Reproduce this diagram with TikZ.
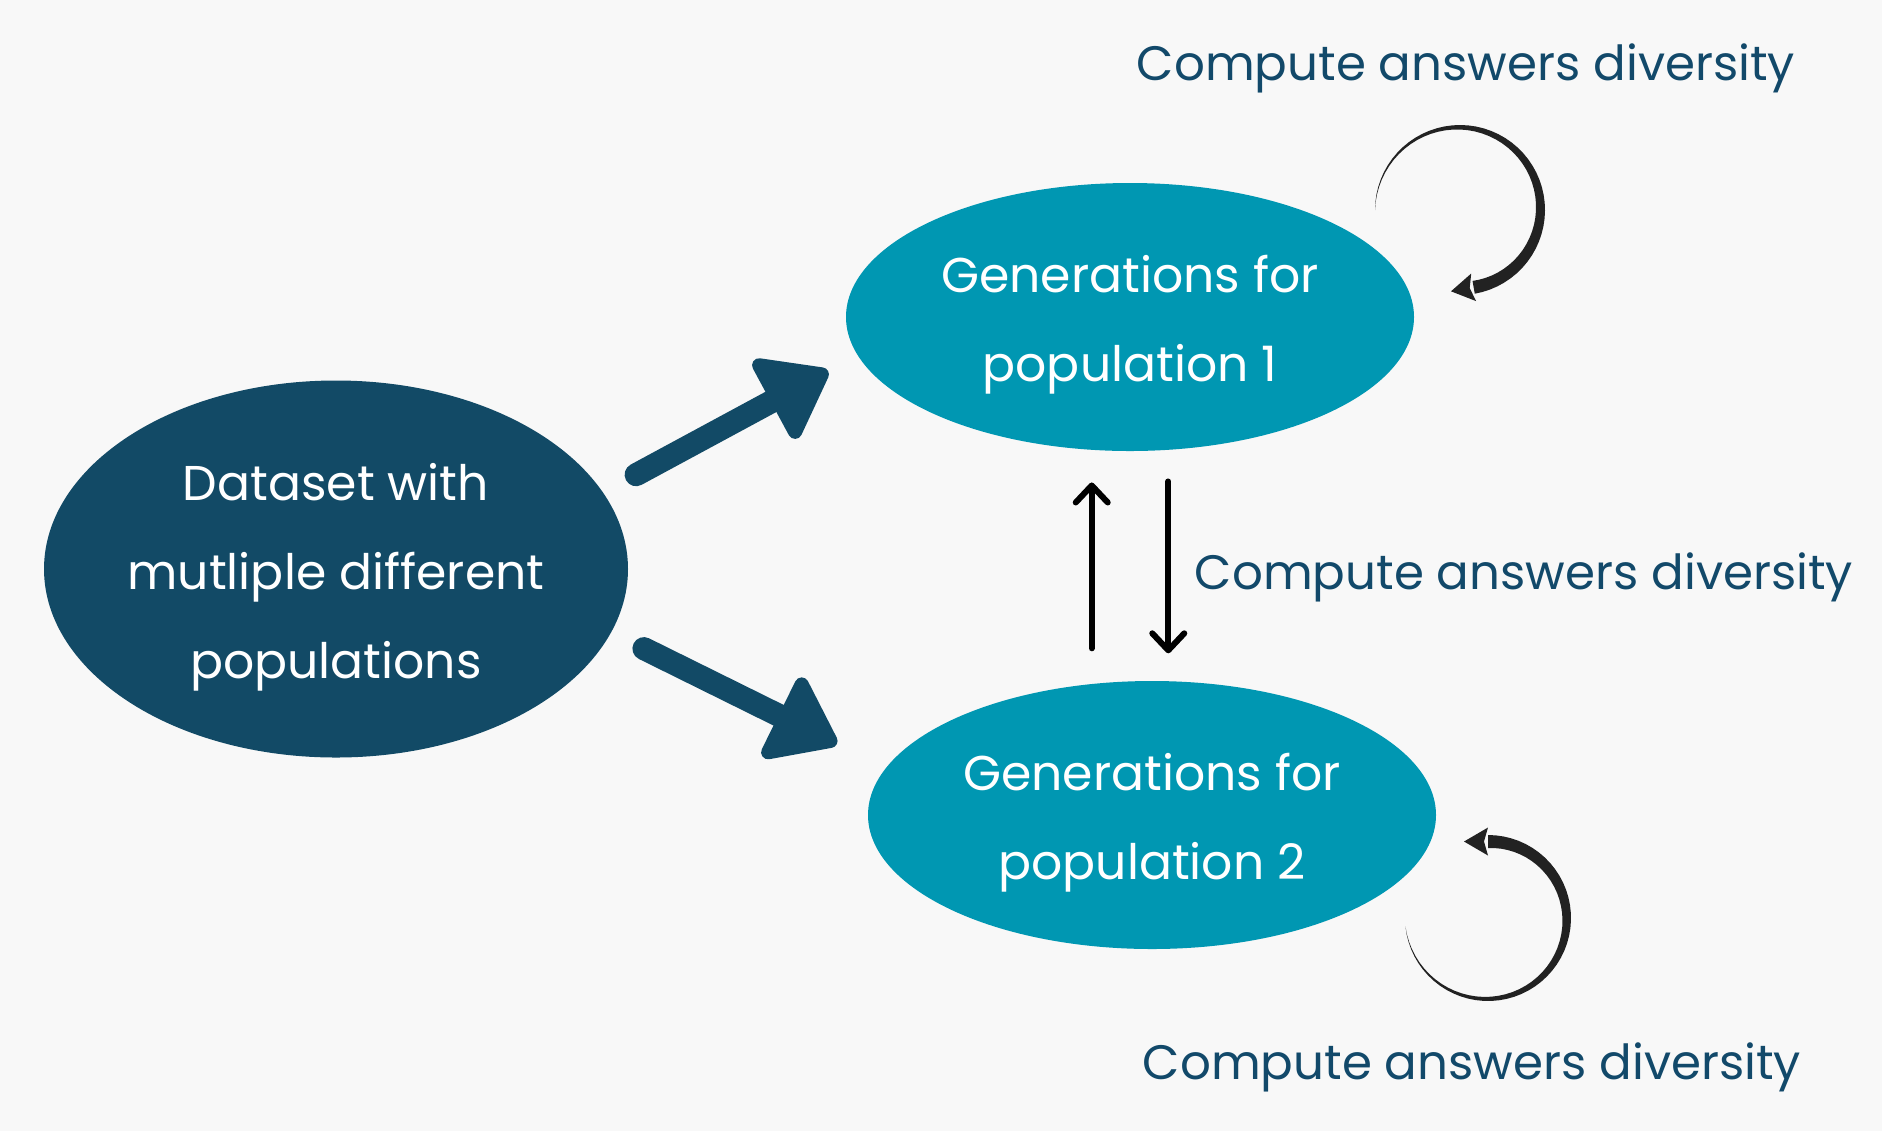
\documentclass[tikz,border=0pt]{standalone}
\usepackage{fontspec}
\setmainfont{Poppins}
\usetikzlibrary{arrows.meta, positioning, calc, shapes.geometric}
\definecolor{paper}{HTML}{F8F8F8}
\definecolor{navy}{HTML}{124A66}
\definecolor{popteal}{HTML}{0097B2}
\definecolor{loopgray}{HTML}{222222}
\definecolor{lblblue}{HTML}{12496A}
\newcommand{\poplift}{\rule{0pt}{15.2pt}}

\begin{document}
\begin{tikzpicture}[
  >={Straight Barb[length=1.7mm, width=3.2mm, round]},
  popnode/.style={
    ellipse, fill=#1, draw=none, inner xsep=-3mm, inner ysep=0pt, text=white,
    align=center, font=\fontsize{13.9}{25.3}\selectfont
  },
  bigarrow/.style={navy, line width=2.3mm, line cap=round,
    -{Triangle[round, line width=1.4mm, length=7mm, width=10mm]}},
  thinarrow/.style={->, black, line width=0.6mm, line cap=round},
  divlbl/.style={text=lblblue, font=\fontsize{13.75}{16}\selectfont},
]

% Background
\fill[paper] (0,0) rectangle (18.82,-11.31);
\useasboundingbox (0,0) rectangle (18.82,-11.31);

% Populations
\node[popnode=navy, minimum width=5.84cm, minimum height=3.77cm] (data) at (3.36,-5.69)
  {\poplift Dataset with\\mutliple different\\populations};

\node[popnode=popteal, minimum width=5.68cm, minimum height=2.68cm] (gen1) at (11.30,-3.17)
  {\poplift Generations for\\population 1};

\node[popnode=popteal, minimum width=5.68cm, minimum height=2.68cm] (gen2) at (11.52,-8.15)
  {\poplift Generations for\\population 2};

% Thick arrows
\draw[bigarrow, shorten <=3.7mm, shorten >=3.3mm] (data.16) -- (gen1.188);
\draw[bigarrow, shorten <=3.6mm, shorten >=5.4mm] (data.-13) -- (gen2.170);

% Arrows between the two generations
\draw[thinarrow] ($(gen2.north -| gen1.254)+(0,3.2mm)$) -- ($(gen1.254)+(0,-3.2mm)$);
\draw[thinarrow] ($(gen1.286)+(0,-3.1mm)$) -- ($(gen2.north -| gen1.286)+(0,2.7mm)$);

% Self loops
\coordinate (loop1) at ($(gen1.center)+(3.30,1.07)$);
\coordinate (loop2) at ($(gen2.center)+(3.36,-1.03)$);

\begin{scope}[shift={(loop1)}]
  \fill[loopgray] plot[domain=180:-80, samples=50] ({0.85*cos(\x)},{0.85*sin(\x)})
    -- plot[domain=-80:180, samples=50]
       ({(0.85-0.13*(180-\x)/260)*cos(\x)},{(0.85-0.13*(180-\x)/260)*sin(\x)}) -- cycle;
  \fill[loopgray] ($(-80:0.785)+(-170:0.23)$) -- (-80:0.925)
    -- ($(-80:0.785)+(-170:0.04)$) -- (-80:0.645) -- cycle;
\end{scope}

\begin{scope}[shift={(loop2)}]
  \fill[loopgray] plot[domain=186:450, samples=50] ({0.83*cos(\x)},{0.83*sin(\x)})
    -- plot[domain=450:186, samples=50]
       ({(0.83-0.13*(\x-186)/264)*cos(\x)},{(0.83-0.13*(\x-186)/264)*sin(\x)}) -- cycle;
  \fill[loopgray] ($(90:0.765)+(180:0.24)$) -- (90:0.905)
    -- ($(90:0.765)+(180:0.04)$) -- (90:0.625) -- cycle;
\end{scope}

% Labels
\node[divlbl] (lbltop) at (14.66,-0.68) {Compute answers diversity};
\node[divlbl] (lblmid) at (15.24,-5.77) {Compute answers diversity};
\node[divlbl] (lblbot) at (14.72,-10.67) {Compute answers diversity};

\end{tikzpicture}
\end{document}
